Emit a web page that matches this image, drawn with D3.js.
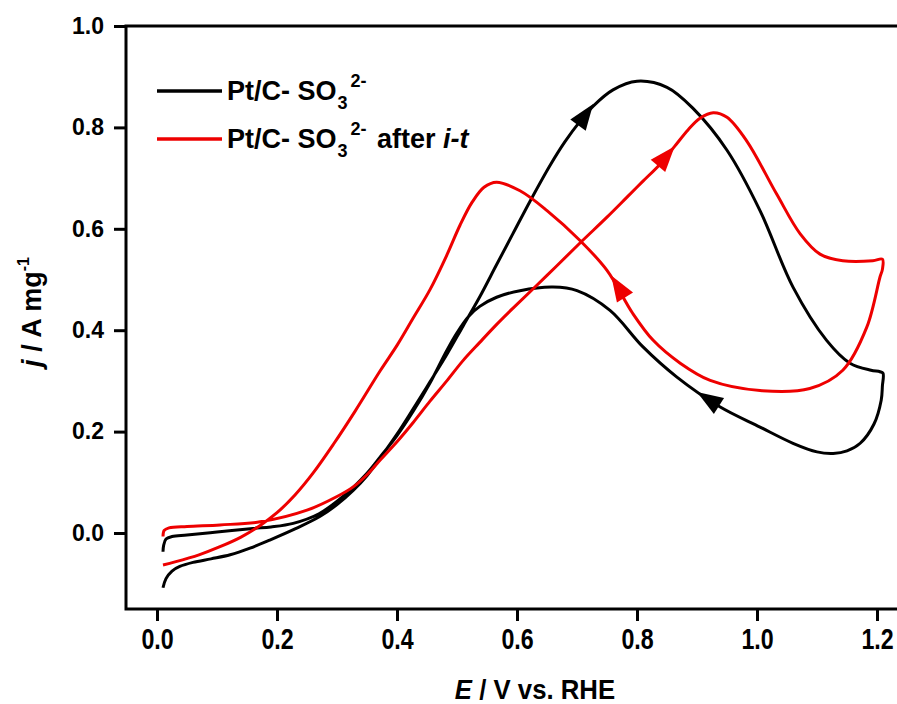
<!DOCTYPE html>
<html>
<head>
<meta charset="utf-8">
<script src="https://cdn.jsdelivr.net/npm/d3@7/dist/d3.min.js"></script>
<style>
html,body{margin:0;padding:0;background:#fff;}
svg{display:block;}
text{font-family:"Liberation Sans",Arial,sans-serif;font-weight:bold;fill:#000;}
</style>
</head>
<body>
<svg id="chart" width="897" height="704"></svg>
<script>
// ---- data (E in V vs RHE, j in A mg^-1) ----
const blackE = [0.010,0.015,0.025,0.038,0.060,0.090,0.122,0.155,0.188,0.230,0.272,0.300,0.327,0.350,0.372,0.400,0.427,0.455,0.483,0.510,0.538,0.565,0.593,0.622,0.655,0.680,0.705,0.727,0.760,0.800,0.850,0.893,0.950,1.005,1.060,1.116,1.155,1.190,1.205,1.210,1.209,1.207,1.195,1.172,1.150,1.127,1.100,1.060,1.005,0.938,0.866,0.810,0.755,0.700,0.660,0.605,0.566,0.538,0.520,0.500,0.483,0.455,0.427,0.400,0.372,0.350,0.310,0.270,0.227,0.190,0.160,0.100,0.050,0.025,0.015,0.011,0.010];
const blackJ = [-0.108,-0.090,-0.075,-0.066,-0.058,-0.051,-0.043,-0.030,-0.014,0.008,0.033,0.056,0.084,0.113,0.148,0.195,0.245,0.298,0.352,0.408,0.466,0.527,0.590,0.655,0.725,0.772,0.812,0.842,0.874,0.891,0.879,0.838,0.755,0.636,0.485,0.380,0.335,0.321,0.318,0.315,0.290,0.262,0.215,0.177,0.162,0.157,0.160,0.177,0.209,0.249,0.308,0.367,0.439,0.478,0.485,0.478,0.465,0.447,0.428,0.395,0.360,0.296,0.240,0.192,0.150,0.118,0.072,0.038,0.019,0.012,0.009,0.002,-0.004,-0.007,-0.012,-0.025,-0.037];
const redE = [0.010,0.012,0.020,0.050,0.105,0.172,0.250,0.300,0.327,0.350,0.372,0.400,0.427,0.455,0.483,0.510,0.538,0.565,0.593,0.650,0.705,0.750,0.783,0.810,0.838,0.863,0.885,0.905,0.927,0.950,0.983,1.033,1.072,1.105,1.143,1.193,1.209,1.209,1.205,1.183,1.143,1.088,1.005,0.922,0.872,0.827,0.793,0.750,0.705,0.650,0.605,0.566,0.545,0.525,0.505,0.483,0.455,0.427,0.400,0.372,0.330,0.294,0.260,0.230,0.200,0.172,0.140,0.105,0.070,0.030,0.010];
const redJ = [-0.007,0.005,0.010,0.013,0.016,0.022,0.045,0.072,0.091,0.115,0.144,0.180,0.218,0.260,0.300,0.340,0.376,0.410,0.443,0.508,0.572,0.623,0.662,0.694,0.727,0.763,0.795,0.818,0.829,0.820,0.773,0.668,0.590,0.550,0.537,0.537,0.540,0.520,0.505,0.406,0.321,0.285,0.281,0.301,0.335,0.380,0.433,0.518,0.577,0.636,0.675,0.692,0.682,0.652,0.607,0.548,0.480,0.424,0.370,0.320,0.240,0.175,0.118,0.075,0.040,0.015,-0.008,-0.027,-0.043,-0.057,-0.063];
// arrows: [tailE, tailJ, tipE, tipJ]
const blackArrows = [[0.699,0.800,0.727,0.846],[0.940,0.248,0.900,0.278]];
const redArrows = [[0.822,0.706,0.863,0.763],[0.785,0.455,0.757,0.508]];
const xTicks = [0.0,0.2,0.4,0.6,0.8,1.0,1.2];
const yTicks = [0.0,0.2,0.4,0.6,0.8,1.0];
const seriesNames = ["Pt/C- SO", "Pt/C- SO"];
const seriesColors = ["#000000","#ee0000"];

// ---- layout ----
const svg = d3.select("#chart");
const x = d3.scaleLinear().domain([0,1.2]).range([157,877]);
const y = d3.scaleLinear().domain([0,1.0]).range([533,26]);
const x0 = x.invert(126), x1 = x.invert(910);
const y0 = y.invert(609);

// frame
svg.append("rect").attr("x",x(x0)).attr("y",y(1.0)).attr("width",x(x1)-x(x0)).attr("height",y(y0)-y(1.0))
  .attr("fill","none").attr("stroke","#000").attr("stroke-width",3);

// axes
const xAxis = d3.axisBottom(x).tickValues(xTicks).tickSize(12).tickFormat(d3.format(".1f"));
const gx = svg.append("g").attr("transform",`translate(0,${y(y0)})`).call(xAxis);
gx.select(".domain").remove();
gx.selectAll(".tick line").attr("stroke","#000").attr("stroke-width",3);
gx.selectAll(".tick text").attr("y",15).attr("dy","25px").attr("transform","scale(0.8,1)")
  .style("font-size","29px").attr("fill","#000");

const yAxis = d3.axisLeft(y).tickValues(yTicks).tickSize(12).tickFormat(d3.format(".1f"));
const gy = svg.append("g").attr("transform",`translate(${x(x0)},0)`).call(yAxis);
gy.select(".domain").remove();
gy.selectAll(".tick line").attr("stroke","#000").attr("stroke-width",3);
gy.selectAll(".tick text").attr("x",-22).style("font-size","23px").attr("fill","#000");

// curves
const line = d3.line().x(d=>x(d[0])).y(d=>y(d[1])).curve(d3.curveCatmullRom.alpha(0.5));
const blackPts = blackE.map((e,i)=>[e,blackJ[i]]);
const redPts = redE.map((e,i)=>[e,redJ[i]]);
svg.append("path").attr("d",line(blackPts)).attr("fill","none").attr("stroke",seriesColors[0]).attr("stroke-width",3).attr("stroke-linejoin","round");
svg.append("path").attr("d",line(redPts)).attr("fill","none").attr("stroke",seriesColors[1]).attr("stroke-width",3).attr("stroke-linejoin","round");

function arrow(a,color){
  const tx=x(a[2]), ty=y(a[3]), bx=x(a[0]), by=y(a[1]);
  const dx=tx-bx, dy=ty-by, L=Math.hypot(dx,dy), ux=dx/L, uy=dy/L;
  const len=26, hw=9.5;
  const cx=tx-ux*len, cy=ty-uy*len;
  const p=[[tx,ty],[cx-uy*hw,cy+ux*hw],[cx+uy*hw,cy-ux*hw]];
  svg.append("path").attr("d","M"+p.map(q=>q.join(",")).join("L")+"Z").attr("fill",color);
}
blackArrows.forEach(a=>arrow(a,seriesColors[0]));
redArrows.forEach(a=>arrow(a,seriesColors[1]));

// legend
const legY=[91,139];
legY.forEach((ly,i)=>{
  svg.append("line").attr("x1",157).attr("x2",222).attr("y1",ly).attr("y2",ly).attr("stroke",seriesColors[i]).attr("stroke-width",3.5);
  const t=svg.append("text").attr("x",227).attr("y",ly+9).style("font-size","27px");
  t.append("tspan").text(seriesNames[i]);
  t.append("tspan").text("3").style("font-size","18px").attr("dy",9).attr("dx",1);
  t.append("tspan").text("2-").style("font-size","18px").attr("dy",-22).attr("dx",3);
  if(i===1){
    t.append("tspan").text(" after ").attr("dy",13).attr("dx",3);
    t.append("tspan").text("i-t").style("font-style","italic");
  }
});

// axis titles
const xt=svg.append("text").attr("transform","translate(535,699) scale(0.92,1)").attr("text-anchor","middle").style("font-size","28px");
xt.append("tspan").text("E").style("font-style","italic");
xt.append("tspan").text(" / V vs. RHE");

const yt=svg.append("text").attr("transform","translate(41,312) rotate(-90)").attr("text-anchor","middle").style("font-size","27px");
yt.append("tspan").text("j").style("font-style","italic");
yt.append("tspan").text(" / A mg");
yt.append("tspan").text("-1").style("font-size","16px").attr("dy",-12);
</script>
</body>
</html>
